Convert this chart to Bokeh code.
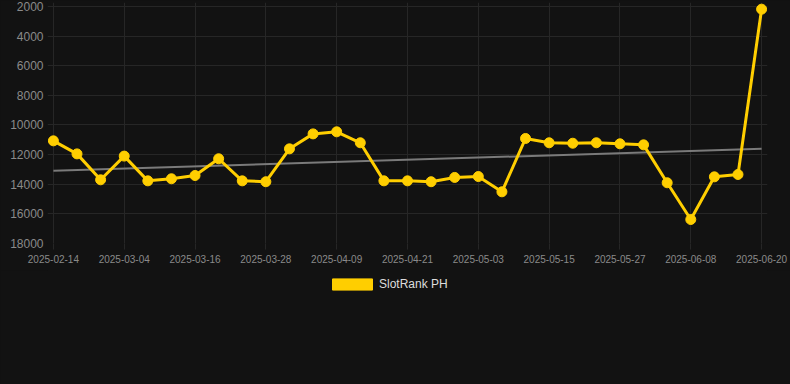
import numpy as np
from bokeh.plotting import figure
from bokeh.layouts import column
from bokeh.models import (Range1d, FixedTicker, Legend, LegendItem, ColumnDataSource)
from bokeh.embed import file_html
from bokeh.resources import INLINE

# ---- data ----
dates = ["2025-02-14", "2025-02-20", "2025-02-26", "2025-03-04", "2025-03-08", "2025-03-12",
         "2025-03-16", "2025-03-20", "2025-03-24", "2025-03-28", "2025-04-01", "2025-04-05",
         "2025-04-09", "2025-04-13", "2025-04-17", "2025-04-21", "2025-04-25", "2025-04-29",
         "2025-05-03", "2025-05-07", "2025-05-11", "2025-05-15", "2025-05-19", "2025-05-23",
         "2025-05-27", "2025-05-31", "2025-06-04", "2025-06-08", "2025-06-12", "2025-06-16",
         "2025-06-20"]
rank = [11070, 11950, 13700, 12100, 13770, 13630, 13410, 12280, 13770, 13830, 11610, 10600,
        10460, 11200, 13770, 13770, 13830, 13540, 13480, 14510, 10910, 11200, 11230, 11200,
        11270, 11340, 13900, 16380, 13500, 13340, 2180]
y_ticks = [2000, 4000, 6000, 8000, 10000, 12000, 14000, 16000, 18000]
series_name = "SlotRank PH"

BG = "#121212"
GOLD = "#FFCE00"
GRID = "#262626"
TICK = "#8a8a8a"
FONT = "Liberation Sans"

idx = list(range(len(dates)))
label_every = 3
tick_idx = idx[::label_every]

W = 790
p = figure(width=W, height=270, output_backend="svg", toolbar_location=None,
           x_range=Range1d(-0.25, len(dates) - 1 + 0.25),
           y_range=Range1d(18000, 1730),
           min_border_left=47, min_border_right=23, min_border_top=2, min_border_bottom=27)
p.background_fill_color = BG
p.border_fill_color = BG
p.outline_line_color = None

# grid
p.xgrid.ticker = FixedTicker(ticks=tick_idx)
p.ygrid.ticker = FixedTicker(ticks=y_ticks)
p.xgrid.grid_line_color = GRID
p.ygrid.grid_line_color = GRID

# axes
xa = p.xaxis[0]
xa.ticker = FixedTicker(ticks=tick_idx)
xa.major_label_overrides = {i: dates[i] for i in tick_idx}
xa.axis_line_color = None
xa.major_tick_line_color = GRID
xa.major_tick_in = 0
xa.major_tick_out = 6
xa.minor_tick_line_color = None
xa.major_label_standoff = 5
xa.major_label_text_font = FONT
xa.major_label_text_font_size = "10px"
xa.major_label_text_color = TICK

ya = p.yaxis[0]
ya.ticker = FixedTicker(ticks=y_ticks)
ya.axis_line_color = None
ya.major_tick_line_color = None
ya.minor_tick_line_color = None
ya.major_tick_in = 0
ya.major_tick_out = 0
ya.major_label_standoff = 4
ya.major_label_text_font = FONT
ya.major_label_text_font_size = "12px"
ya.major_label_text_color = TICK

# trend line (least squares fit of the series)
slope, intercept = np.polyfit(idx, rank, 1)
tx = [idx[0], idx[-1]]
ty = [intercept + slope * v for v in tx]
p.line(tx, ty, line_color="#7a7a7a", line_width=2)

src = ColumnDataSource(dict(x=idx, y=rank))
p.line("x", "y", source=src, line_color=GOLD, line_width=3)
p.scatter("x", "y", source=src, size=10, fill_color=GOLD, line_color=GOLD)

# ---- legend strip below the chart ----
lf = figure(width=W, height=114, output_backend="svg", toolbar_location=None,
            x_range=Range1d(0, 1), y_range=Range1d(0, 1),
            min_border_left=0, min_border_right=0, min_border_top=0, min_border_bottom=0)
lf.background_fill_color = BG
lf.border_fill_color = BG
lf.outline_line_color = None
lf.axis.visible = False
lf.grid.visible = False
leg_r = lf.vbar(x="x", top="y", width=0.5, source=src, fill_color=GOLD, line_color=GOLD,
                visible=False)
legend = Legend(items=[LegendItem(label=series_name, renderers=[leg_r])],
                location=(280, 93), orientation="horizontal",
                glyph_width=50, glyph_height=14, label_height=14, label_standoff=2,
                label_text_font=FONT, label_text_font_size="12px",
                label_text_color="#dddddd", background_fill_alpha=0,
                border_line_color=None, margin=0, padding=0)
lf.add_layout(legend, "center")

layout = column(p, lf, spacing=0, styles={"background-color": BG})
open("out.html", "w").write(file_html(layout, INLINE))
